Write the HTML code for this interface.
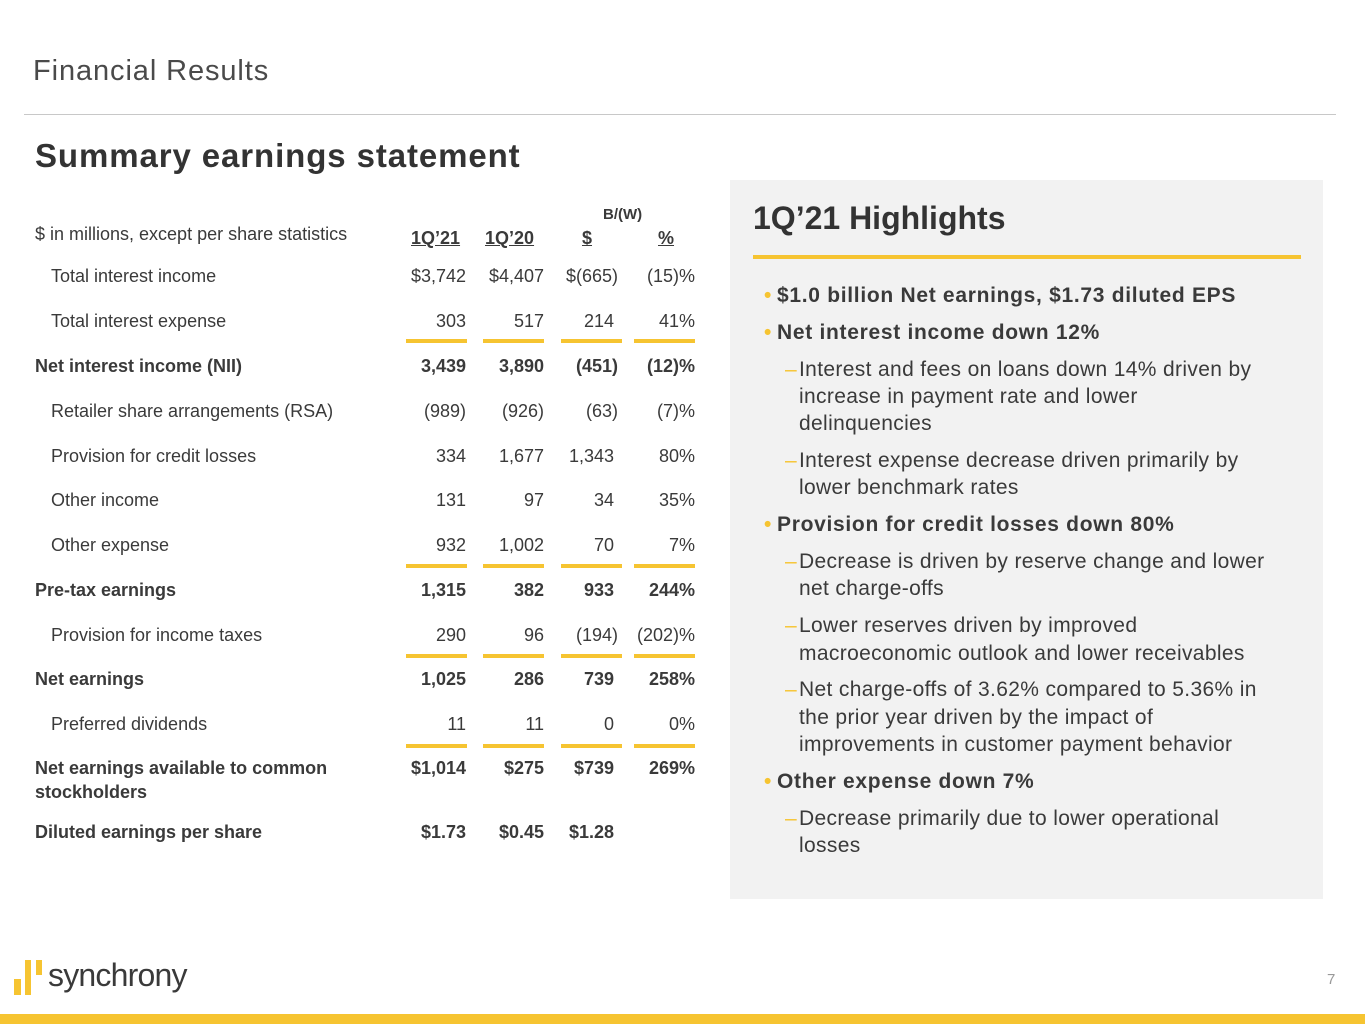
<!DOCTYPE html>
<html><head><meta charset="utf-8"><style>
body{margin:0;width:1365px;height:1024px;position:relative;background:#fff;font-family:"Liberation Sans",sans-serif;color:#3a3a3a;overflow:hidden}
.a{position:absolute;white-space:nowrap;line-height:24px}
.r{text-align:right}
.b{font-weight:bold}
.t{font-size:18px}
.yl{position:absolute;height:4px;background:#f6c431}
.h{position:absolute;white-space:nowrap;line-height:28px;font-size:21px;letter-spacing:0.35px;color:#3a3a3a}
.dot{color:#f6c431;position:absolute;left:-13px}
.dash{color:#f6c431;position:absolute;left:-14px}
</style></head><body>
<div class="a" style="left:33px;top:56px;font-size:29px;line-height:30px;color:#4a4a4a;letter-spacing:0.9px">Financial Results</div>
<div style="position:absolute;left:24px;top:114px;width:1312px;height:1px;background:#c8c8c8"></div>
<div class="a b" style="left:35px;top:138px;font-size:33px;line-height:36px;color:#333;letter-spacing:0.9px">Summary earnings statement</div>

<div class="a t" style="left:35px;top:222px">$ in millions, except per share statistics</div>
<div class="a b" style="left:603px;top:205px;font-size:15px;line-height:20px">B/(W)</div>
<div class="a b t" style="left:411px;top:226px;text-decoration:underline">1Q’21</div>
<div class="a b t" style="left:485px;top:226px;text-decoration:underline">1Q’20</div>
<div class="a b t" style="left:582px;top:226px;text-decoration:underline">$</div>
<div class="a b t" style="left:658px;top:226px;text-decoration:underline">%</div>

<div id="tbl"></div>
<div class="yl" style="left:406px;top:339px;width:61px"></div><div class="yl" style="left:483px;top:339px;width:61px"></div><div class="yl" style="left:561px;top:339px;width:61px"></div><div class="yl" style="left:634px;top:339px;width:61px"></div>
<div class="yl" style="left:406px;top:564px;width:61px"></div><div class="yl" style="left:483px;top:564px;width:61px"></div><div class="yl" style="left:561px;top:564px;width:61px"></div><div class="yl" style="left:634px;top:564px;width:61px"></div>
<div class="yl" style="left:406px;top:654px;width:61px"></div><div class="yl" style="left:483px;top:654px;width:61px"></div><div class="yl" style="left:561px;top:654px;width:61px"></div><div class="yl" style="left:634px;top:654px;width:61px"></div>
<div class="yl" style="left:406px;top:744px;width:61px"></div><div class="yl" style="left:483px;top:744px;width:61px"></div><div class="yl" style="left:561px;top:744px;width:61px"></div><div class="yl" style="left:634px;top:744px;width:61px"></div>

<div style="position:absolute;left:730px;top:180px;width:593px;height:719px;background:#f2f2f2"></div>
<div class="a b" style="left:753px;top:200px;font-size:32px;line-height:36px;color:#333">1Q’21 Highlights</div>
<div class="yl" style="left:753px;top:255px;width:548px;height:4px"></div>
<div id="hl"></div>

<div style="position:absolute;left:14px;top:979px;width:7px;height:16px;background:#f6c431"></div>
<div style="position:absolute;left:25px;top:960px;width:6px;height:35px;background:#f6c431"></div>
<div style="position:absolute;left:36px;top:960px;width:6px;height:15px;background:#f6c431"></div>
<div class="a" style="left:48px;top:955px;font-size:32px;line-height:40px;color:#3a3a3a;letter-spacing:-0.8px">synchrony</div>
<div class="a" style="left:1327px;top:968px;font-size:15px;color:#999">7</div>
<div style="position:absolute;left:0;top:1014px;width:1365px;height:10px;background:#f6c431"></div>

<script>
var rows=[
[276,"Total interest income",0,"$3,742","$4,407","$(665)","(15)%"],
[321,"Total interest expense",0,"303","517","214","41%"],
[366,"Net interest income (NII)",1,"3,439","3,890","(451)","(12)%"],
[411,"Retailer share arrangements (RSA)",0,"(989)","(926)","(63)","(7)%"],
[456,"Provision for credit losses",0,"334","1,677","1,343","80%"],
[500,"Other income",0,"131","97","34","35%"],
[545,"Other expense",0,"932","1,002","70","7%"],
[590,"Pre-tax earnings",1,"1,315","382","933","244%"],
[635,"Provision for income taxes",0,"290","96","(194)","(202)%"],
[679,"Net earnings",1,"1,025","286","739","258%"],
[724,"Preferred dividends",0,"11","11","0","0%"],
[768,"Net earnings available to common",1,"$1,014","$275","$739","269%"],
[792,"stockholders",1,"","","",""],
[832,"Diluted earnings per share",1,"$1.73","$0.45","$1.28",""]];
var rights=[466,544,618,695],h="";
rows.forEach(function(r){var y=r[0]-12,b=r[2]?" b":"";var x=r[2]?35:51;
h+='<div class="a t'+b+'" style="left:'+x+'px;top:'+y+'px">'+r[1]+'</div>';
for(var i=0;i<4;i++){
h+='<div class="a t r'+b+'" style="right:'+(1365-rights[i]+(i==2&&!/\)$/.test(r[5])?4:0))+'px;top:'+y+'px">'+r[3+i]+'</div>';}});
document.getElementById('tbl').innerHTML=h;
var L=[[296,1,"$1.0 billion Net earnings, $1.73 diluted EPS"],[333,1,"Net interest income down 12%"],
[370,2,"Interest and fees on loans down 14% driven by"],[397,3,"increase in payment rate and lower"],[424,3,"delinquencies"],
[461,2,"Interest expense decrease driven primarily by"],[488,3,"lower benchmark rates"],
[525,1,"Provision for credit losses down 80%"],
[562,2,"Decrease is driven by reserve change and lower"],[589,3,"net charge-offs"],
[626,2,"Lower reserves driven by improved"],[654,3,"macroeconomic outlook and lower receivables"],
[690,2,"Net charge-offs of 3.62% compared to 5.36% in"],[718,3,"the prior year driven by the impact of"],[745,3,"improvements in customer payment behavior"],
[782,1,"Other expense down 7%"],[819,2,"Decrease primarily due to lower operational"],[846,3,"losses"]];
h="";L.forEach(function(l){var x=l[1]==1?777:799;var pre=l[1]==1?'<span class="dot">•</span>':l[1]==2?'<span class="dash">–</span>':'';
h+='<div class="h'+(l[1]==1?' b':'')+'" style="left:'+x+'px;top:'+(l[0]-14)+'px;'+(l[1]==1?'font-size:21px;letter-spacing:0.7px':'')+'">'+pre+l[2]+'</div>';});
document.getElementById('hl').innerHTML=h;
</script>
</body></html>
